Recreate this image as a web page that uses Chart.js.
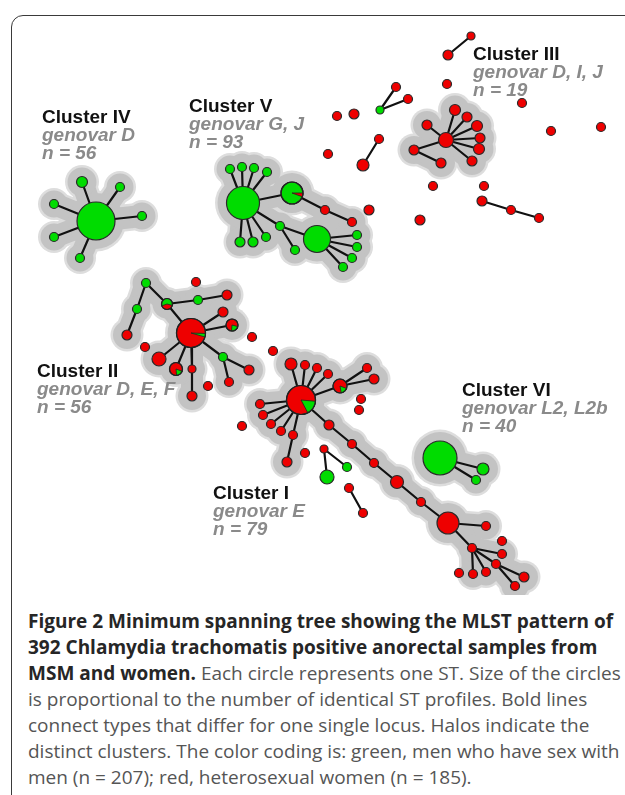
<!DOCTYPE html>
<html lang="en">
<head>
  <meta charset="UTF-8" />
  <title>Figure 2 MLST minimum spanning tree</title>
  <style>
    *{box-sizing:border-box}
    body{margin:0;background:#fff;width:625px;height:795px;position:relative;overflow:hidden}
    .frame{position:absolute;left:11px;top:15px;width:700px;height:820px;border:1.5px solid #3a3a3a;border-radius:12px}
    #mst{position:absolute;left:0;top:0}
    .lbl{position:absolute;font-family:'Liberation Sans',Arial,sans-serif;font-size:19px;line-height:18px;white-space:nowrap}
    .lbl b{display:block;color:#111}
    .lbl i{display:block;color:#8a8a8a;font-weight:bold}
    .caption{position:absolute;left:28px;top:608px;font-family:'Open Sans',sans-serif;font-size:19px;line-height:26px;color:#555;white-space:nowrap}
    .caption b{color:#262626}
  </style>
</head>
<body>
  <div class="frame"></div>
  <canvas id="mst" width="625" height="595"></canvas>

  <div class="lbl" style="left:42px;top:108px"><b>Cluster IV</b><i>genovar D</i><i>n = 56</i></div>
  <div class="lbl" style="left:189px;top:97px"><b>Cluster V</b><i>genovar G, J</i><i>n = 93</i></div>
  <div class="lbl" style="left:473px;top:45px"><b>Cluster III</b><i>genovar D, I, J</i><i>n = 19</i></div>
  <div class="lbl" style="left:37px;top:362px"><b>Cluster II</b><i>genovar D, E, F</i><i>n = 56</i></div>
  <div class="lbl" style="left:213px;top:484px"><b>Cluster I</b><i>genovar E</i><i>n = 79</i></div>
  <div class="lbl" style="left:462px;top:381px"><b>Cluster VI</b><i>genovar L2, L2b</i><i>n = 40</i></div>

  <div class="caption">
    <b>Figure 2 Minimum spanning tree showing the MLST pattern of</b><br>
    <b>392 Chlamydia trachomatis positive anorectal samples from</b><br>
    <b>MSM and women.</b> Each circle represents one ST. Size of the circles<br>
    is proportional to the number of identical ST profiles. Bold lines<br>
    connect types that differ for one single locus. Halos indicate the<br>
    distinct clusters. The color coding is: green, men who have sex with<br>
    men (n = 207); red, heterosexual women (n = 185).
  </div>

  <script src="https://cdn.jsdelivr.net/npm/chart.js"></script>
  <script>
  // nodes: id, x, y, radius, base colour (g = MSM, r = women)
  const nodes = [
    // cluster IV
    ['iv0',96,221,19,'g'],['iv1',82,182,5.5,'g'],['iv2',120,187,4.5,'g'],['iv3',142,216,4.5,'g'],
    ['iv4',54,204,4.5,'g'],['iv5',54,237,4.5,'g'],['iv6',80,258,4.5,'g'],
    // cluster V
    ['v0',243,203,16.5,'g'],['v1',230,169,4.5,'g'],['v2',242,167,4.5,'g'],['v3',254,168,4.5,'g'],['v4',267,172,4.5,'g'],
    ['v5',240,242,5,'g'],['v6',253,242,5,'g'],['v7',266,237,4.5,'g'],
    ['v8',292,193,11,'g'],['v9',325,210,4.5,'r'],['v10',352,222,4.5,'r'],
    ['v11',280,226,4.5,'g'],['v12',295,250,4.5,'g'],['v13',317,239,13.5,'g'],
    ['v14',357,235,4.5,'g'],['v15',357,247,4.5,'g'],['v16',352,258,4.5,'g'],['v17',343,267,4.5,'g'],
    // cluster III
    ['c0',446,140,7.5,'r'],['c1',427,125,5,'r'],['c2',455,110,5.5,'r'],['c3',467,117,5,'r'],['c4',477,126,5.5,'r'],
    ['c5',480,138,5,'r'],['c6',479,149,5.5,'r'],['c7',472,161,5,'r'],['c8',414,150,5,'r'],['c9',441,163,5,'r'],
    // cluster II
    ['b0',191,333,14.5,'r'],['b1',146,283,4.5,'g'],['b2',137,309,4.5,'g'],['b3',127,335,5,'r'],
    ['b4',167,304,5.5,'g'],['b5',198,300,4.5,'g'],['b6',227,295,5,'r'],['b7',223,312,5,'r'],['b8',232,325,6,'r'],
    ['b9',223,357,4.5,'g'],['b10',249,370,5,'r'],['b11',229,382,4.5,'r'],['b12',159,359,7,'r'],
    ['b13',176,369,6.5,'r'],['b14',192,369,4,'r'],['b15',192,396,5,'r'],
    // cluster I
    ['e0',301,400,14.5,'r'],['e1',291,364,6,'r'],['e2',305,365,4.5,'r'],['e3',317,368,4.5,'r'],['e4',328,374,4.5,'r'],
    ['e5',260,404,4.5,'r'],['e6',263,415,4.5,'r'],['e7',271,424,4.5,'r'],['e8',281,431,4.5,'r'],['e9',293,435,4.5,'r'],
    ['e10',287,462,5,'r'],['e11',340,386,7,'r'],['e12',367,368,4.5,'r'],['e13',374,379,5,'r'],
    ['t1',329,425,5,'r'],['t2',352,444,4.5,'r'],['t3',374,463,4.5,'r'],['t4',397,482,6.5,'r'],['t5',421,502,4.5,'r'],
    ['t6',448,523,11,'r'],['t7',486,526,4.5,'r'],['t8',472,548,4.5,'r'],['t9',502,554,4.5,'r'],['t10',486,572,4.5,'r'],
    ['t11',473,574,4.5,'r'],['t12',496,564,4.5,'r'],['t13',524,577,5,'r'],['t14',515,586,4.5,'r'],
    // cluster VI
    ['k0',440,458,17,'g'],['k1',483,469,6,'g'],['k2',476,480,4.5,'g'],
    // loose types
    ['a1',328,154,4.5,'r'],['a2',363,165,6,'r'],['a3',379,139,4.5,'r'],['a4',369,210,5,'r'],
    ['a5',337,116,4.5,'r'],['a6',354,114,5,'r'],['a7',380,110,4,'g'],['a8',396,87,4.5,'r'],['a9',408,99,4.5,'r'],
    ['a10',448,55,5,'r'],['a11',471,36,4,'r'],['a12',447,84,4.5,'r'],['a13',522,103,4.5,'r'],
    ['a14',551,131,4.5,'r'],['a15',601,127,4.5,'r'],['a16',433,186,4.5,'r'],['a17',484,186,4.5,'r'],
    ['a18',482,201,5,'r'],['a19',511,210,4.5,'r'],['a20',539,218,4.5,'r'],['a21',420,220,5,'r'],
    ['d1',196,282,4.5,'r'],['d2',145,347,4.5,'r'],['d3',208,386,4.5,'r'],['d4',252,337,4.5,'r'],['d5',273,351,4.5,'r'],
    ['g1',361,399,4.5,'r'],['g2',359,410,4.5,'r'],['g3',242,426,4.5,'r'],['g4',305,453,4.5,'r'],
    ['h1',324,449,4,'r'],['h2',327,477,7,'g'],['h3',347,467,4.5,'g'],['h4',349,488,4.5,'r'],['h5',363,513,4.5,'r'],
    ['f1',502,541,4.5,'r'],['f2',459,573,4.5,'r']
  ];

  // single-locus links inside the haloed clusters
  const treeEdges = [
    ['iv0','iv1'],['iv0','iv2'],['iv0','iv3'],['iv0','iv4'],['iv0','iv5'],['iv0','iv6'],
    ['v0','v1'],['v0','v2'],['v0','v3'],['v0','v4'],['v0','v5'],['v0','v6'],['v0','v7'],
    ['v0','v8'],['v8','v9'],['v9','v10'],['v0','v11'],['v11','v12'],['v11','v13'],
    ['v13','v14'],['v13','v15'],['v13','v16'],['v13','v17'],
    ['c0','c1'],['c0','c2'],['c0','c3'],['c0','c4'],['c0','c5'],['c0','c6'],['c0','c7'],['c0','c8'],['c8','c9'],
    ['b1','b2'],['b2','b3'],['b1','b4'],['b4','b5'],['b5','b6'],['b4','b0'],['b0','b7'],['b0','b8'],
    ['b0','b9'],['b9','b10'],['b9','b11'],['b0','b12'],['b0','b13'],['b0','b14'],['b14','b15'],
    ['e0','e1'],['e0','e2'],['e0','e3'],['e0','e4'],['e0','e5'],['e0','e6'],['e0','e7'],['e0','e8'],['e0','e9'],
    ['e9','e10'],['e0','e11'],['e11','e12'],['e11','e13'],
    ['e0','t1'],['t1','t2'],['t2','t3'],['t3','t4'],['t4','t5'],['t5','t6'],['t6','t7'],['t6','t8'],
    ['t8','t9'],['t8','t10'],['t8','t11'],['t8','t12'],['t12','t13'],['t12','t14'],
    ['k0','k1'],['k0','k2']
  ];
  // links outside the halos
  const looseEdges = [
    ['a10','a11'],['a7','a8'],['a7','a9'],['a2','a3'],['a18','a19'],['a19','a20'],
    ['h1','h2'],['h1','h3'],['h4','h5']
  ];
  // mixed types: id, wedge start deg, wedge end deg, wedge colour
  const wedges = [
    ['v8',0,20,'r'],['b0',2,16,'g'],['b4',15,160,'r'],['b8',15,95,'g'],['b13',20,85,'g'],
    ['e0',5,62,'g'],['e11',20,80,'g']
  ];

  const RED = '#ee0000', GREEN = '#00dc00';
  const byId = {};
  nodes.forEach(n => byId[n[0]] = n);
  const pt = id => ({x: byId[id][1], y: byId[id][2]});

  function segments(list) {
    const out = [];
    list.forEach(([a, b]) => out.push(pt(a), pt(b), {x: null, y: null}));
    return out;
  }
  const haloIds = [...new Set(treeEdges.flat())];

  const wedgePlugin = {
    id: 'wedges',
    afterDatasetsDraw(chart) {
      const {ctx, scales: {x, y}} = chart;
      ctx.save();
      wedges.forEach(([id, a0, a1, c]) => {
        const n = byId[id];
        const cx = x.getPixelForValue(n[1]), cy = y.getPixelForValue(n[2]);
        const r = n[3];
        ctx.beginPath();
        ctx.moveTo(cx, cy);
        ctx.arc(cx, cy, r, a0 * Math.PI / 180, a1 * Math.PI / 180);
        ctx.closePath();
        ctx.fillStyle = c === 'g' ? GREEN : RED;
        ctx.fill();
        ctx.strokeStyle = '#222';
        ctx.lineWidth = 0.8;
        ctx.stroke();
        ctx.beginPath();
        ctx.arc(cx, cy, r, 0, Math.PI * 2);
        ctx.lineWidth = 1.2;
        ctx.stroke();
      });
      ctx.restore();
    }
  };

  new Chart(document.getElementById('mst'), {
    type: 'scatter',
    data: {
      datasets: [
        { // outer halo rim
          data: segments(treeEdges), showLine: true, spanGaps: false,
          borderColor: '#dddddd', borderWidth: 27, borderCapStyle: 'round', borderJoinStyle: 'round',
          pointRadius: 0, order: 6
        },
        {
          data: haloIds.map(pt), pointRadius: haloIds.map(id => byId[id][3] + 11.5),
          pointBackgroundColor: '#dddddd', pointBorderWidth: 0, order: 5
        },
        { // halo body
          data: segments(treeEdges), showLine: true, spanGaps: false,
          borderColor: '#c3c3c3', borderWidth: 22, borderCapStyle: 'round', borderJoinStyle: 'round',
          pointRadius: 0, order: 4
        },
        {
          data: haloIds.map(pt), pointRadius: haloIds.map(id => byId[id][3] + 9),
          pointBackgroundColor: '#c3c3c3', pointBorderWidth: 0, order: 3
        },
        { // links
          data: segments(treeEdges.concat(looseEdges)), showLine: true, spanGaps: false,
          borderColor: '#111', borderWidth: 2.2, pointRadius: 0, order: 2
        },
        { // sequence types
          data: nodes.map(n => ({x: n[1], y: n[2]})),
          pointRadius: nodes.map(n => n[3]),
          pointBackgroundColor: nodes.map(n => n[4] === 'g' ? GREEN : RED),
          pointBorderColor: '#2a2a2a', pointBorderWidth: 1.2, order: 1
        }
      ]
    },
    options: {
      responsive: false,
      animation: false,
      events: [],
      layout: { padding: 0, autoPadding: false },
      plugins: { legend: { display: false }, tooltip: { enabled: false } },
      scales: {
        x: { type: 'linear', min: 0, max: 625, display: false },
        y: { type: 'linear', min: 0, max: 595, reverse: true, display: false }
      }
    },
    plugins: [wedgePlugin]
  });
  </script>
</body>
</html>
